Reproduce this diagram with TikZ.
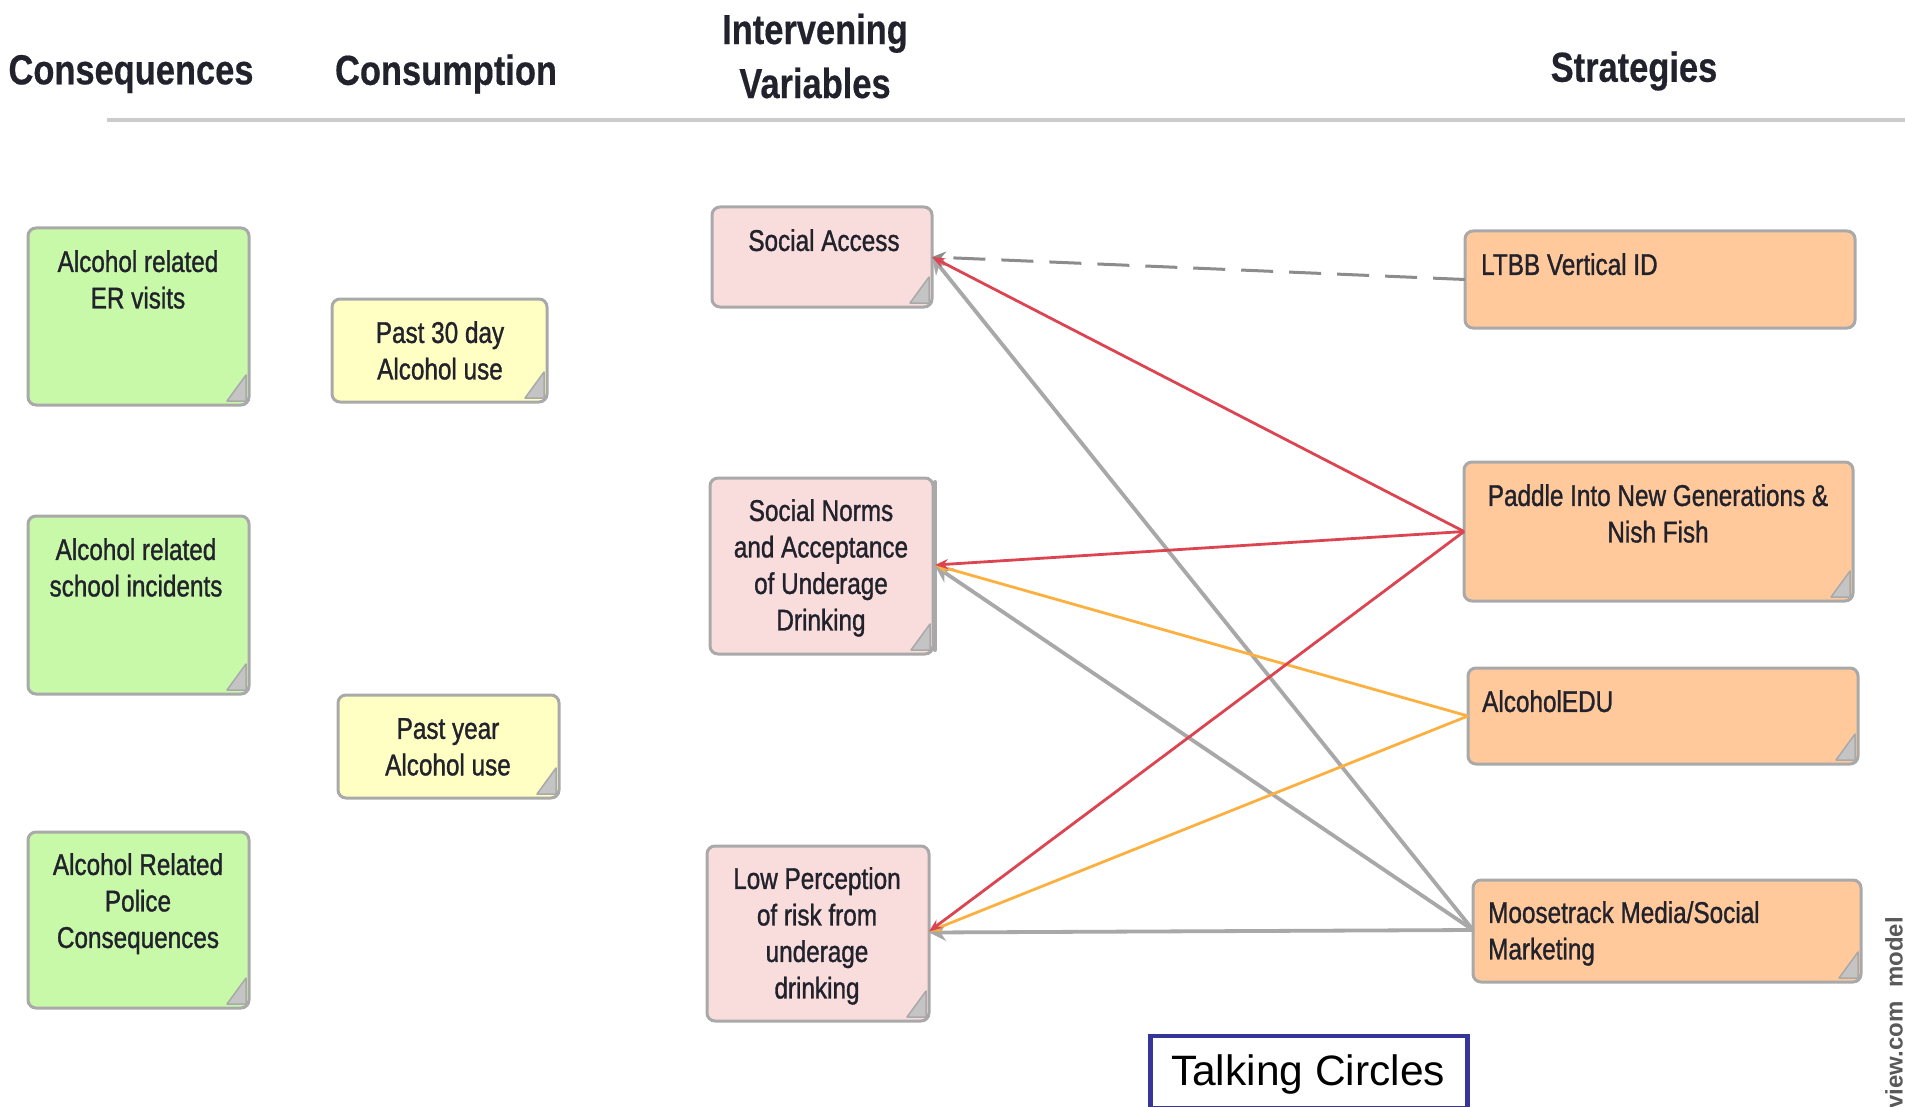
\documentclass[tikz,border=0pt]{standalone}
\usepackage{fontspec}
\usetikzlibrary{calc,arrows.meta}
\setmainfont{Liberation Sans}
\newfontfamily\notefont[FakeStretch=0.81,FakeBold=1.1]{Liberation Sans}
\newfontfamily\headfont[FakeStretch=0.82,FakeBold=0.4]{Liberation Sans Bold}
\definecolor{txtdark}{HTML}{22222C}
\definecolor{edgegrey}{HTML}{A9A9A9}
\definecolor{foldgrey}{HTML}{C4C4C4}
\definecolor{notegreen}{HTML}{C8F9A8}
\definecolor{noteyellow}{HTML}{FFFFC4}
\definecolor{notepink}{HTML}{F9DDDD}
\definecolor{noteorange}{HTML}{FFC99C}
\definecolor{linkred}{HTML}{DB4450}
\definecolor{linkorange}{HTML}{FBB03F}
\definecolor{linkgrey}{HTML}{A8A8A8}
\definecolor{circleblue}{HTML}{36369A}
\tikzset{
  x=1pt,y=-1pt,
  notebox/.style={draw=edgegrey,line width=3pt,rounded corners=8pt,inner sep=0pt,outer sep=0pt},
  notetext/.style={font=\notefont\fontsize{30}{36.5}\selectfont,text=txtdark,inner sep=0pt,align=center,anchor=north},
  notetextl/.style={notetext,align=left,anchor=north west},
  headtext/.style={font=\headfont\fontsize{42}{54}\selectfont,text=txtdark,inner sep=0pt,align=center},
  redlink/.style={-{Stealth[length=13pt,width=10pt]},draw=linkred,line width=2.8pt},
  orangelink/.style={-{Stealth[length=13pt,width=10pt]},draw=linkorange,line width=2.8pt},
  greylink/.style={-{Stealth[length=17pt,width=17pt]},draw=linkgrey,line width=3.8pt},
  dashlink/.style={-{Stealth[length=14pt,width=12pt]},draw=gray!90,line width=3pt,dash pattern=on 32pt off 16pt}
}
\newcommand{\plainnote}[6]{%
  \pgfmathsetmacro{\bw}{#4-#2}\pgfmathsetmacro{\bh}{#5-#3}
  \node[notebox,fill=#6,minimum width=\bw,minimum height=\bh] (#1) at ({(#2+#4)/2},{(#3+#5)/2}) {};
}
\newcommand{\sticky}[6]{%
  \plainnote{#1}{#2}{#3}{#4}{#5}{#6}
  \fill[foldgrey,draw=edgegrey,line width=1.5pt,line join=round]
    ($(#1.south east)+(-3,-4)$) -- ($(#1.south east)+(-22,-4)$) -- ($(#1.south east)+(-3,-30)$) -- cycle;
}
\begin{document}
\begin{tikzpicture}
\useasboundingbox (0,0) rectangle (1905,1107);
% header
\coordinate (rulestart) at (107,120);
\coordinate (ruleend) at (1905,120);
\draw[color=black!20,line width=4.5pt] (rulestart) -- (ruleend);
\node[headtext] (h1) at (131,74) {Consequences};
\node[headtext] (h2) at (446,74) {Consumption};
\node[headtext] (h3) at (815,56) {Intervening\\Variables};
\node[headtext] (h4) at (1634,71) {Strategies};
% notes
\sticky{c1}{28}{228}{249}{405}{notegreen}
\sticky{c2}{28}{516}{249}{694}{notegreen}
\sticky{c3}{28}{832}{249}{1008}{notegreen}
\sticky{u1}{332}{299}{547}{402}{noteyellow}
\sticky{u2}{338}{695}{559}{798}{noteyellow}
\draw[edgegrey,line width=4pt,line cap=round] (935,482) -- (935,650);
\sticky{v1}{712}{207}{932}{307}{notepink}
\sticky{v2}{710}{478}{933}{654}{notepink}
\sticky{v3}{707}{846}{929}{1021}{notepink}
\plainnote{s1}{1465}{231}{1855}{328}{noteorange}
\sticky{s2}{1464}{462}{1853}{601}{noteorange}
\sticky{s3}{1468}{668}{1858}{764}{noteorange}
\sticky{s4}{1473}{880}{1861}{982}{noteorange}
% note texts
\node[notetext] (tc1) at (138,250) {Alcohol related\\ER visits};
\node[notetext] (tc2) at (136,538) {Alcohol related\\school incidents};
\node[notetext] (tc3) at (138,853) {Alcohol Related\\Police\\Consequences};
\node[notetext] (tu1) at (440,321) {Past 30 day\\Alcohol use};
\node[notetext] (tu2) at (448,718) {Past year\\Alcohol use};
\node[notetext] (tv1) at (824,229) {Social Access};
\node[notetext] (tv2) at (821,499) {Social Norms\\and Acceptance\\of Underage\\Drinking};
\node[notetext] (tv3) at (817,867) {Low Perception\\of risk from\\underage\\drinking};
\node[notetextl] (ts1) at (1481,253) {LTBB Vertical ID};
\node[notetext] (ts2) at (1658,484) {Paddle Into New Generations \&\\Nish Fish};
\node[notetextl] (ts3) at (1482,690) {AlcoholEDU};
\node[notetextl] (ts4) at (1488,901) {Moosetrack Media/Social\\Marketing};
% links
\draw[dashlink] (s1.west) -- (v1.east);
\draw[greylink] ($(s4.west)+(0,-1)$) -- (v1.east);
\draw[greylink] ($(s4.west)+(0,-1)$) -- ($(v2.east)+(2,0)$);
\draw[greylink] ($(s4.west)+(0,-1)$) -- ($(v3.east)+(0,-1)$);
\draw[orangelink] (s3.west) -- ($(v2.east)+(2,-1)$);
\draw[orangelink] (s3.west) -- ($(v3.east)+(0,-2)$);
\draw[redlink] (s2.west) -- (v1.east);
\draw[redlink] (s2.west) -- ($(v2.east)+(2,-1)$);
\draw[redlink] (s2.west) -- ($(v3.east)+(0,-2)$);
% talking circles
\node[draw=circleblue,line width=4.5pt,fill=white,minimum width=317pt,minimum height=72pt,inner sep=0pt] (tc) at (1309,1072) {};
\node[inner sep=0pt,font=\fontsize{42.5}{50}\selectfont] (tct) at (1308,1074) {Talking Circles};
% side text
\node[rotate=90,anchor=east,inner sep=0pt,text=black!65,font=\bfseries\fontsize{24}{28}\selectfont] (side) at (1894,917) {view.com\ \ model};
\end{tikzpicture}
\end{document}
